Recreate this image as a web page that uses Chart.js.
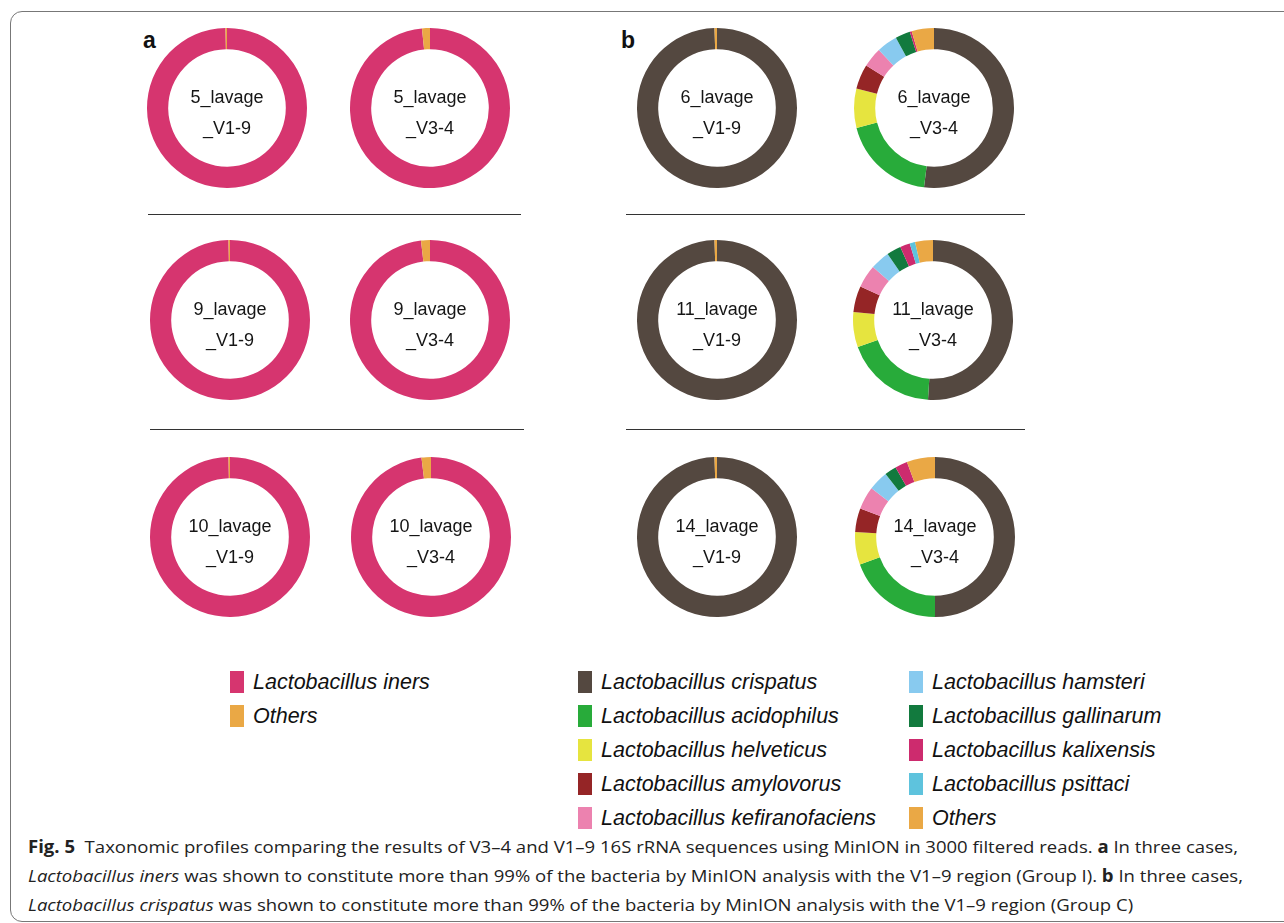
<!DOCTYPE html>
<html>
<head>
<meta charset="utf-8">
<script src="https://cdn.jsdelivr.net/npm/chart.js@4.4.1/dist/chart.umd.min.js"></script>
<style>
  html, body { margin:0; padding:0; background:#fff; }
  body { width:1284px; height:923px; position:relative; overflow:hidden; font-family:"Liberation Sans", Arial, sans-serif; }
  .frame { position:absolute; left:10px; top:11px; width:1300px; height:911px; border:1.5px solid #777; border-radius:12px; box-sizing:border-box; }
  .donut { position:absolute; width:160px; height:160px; }
  .sep { position:absolute; height:1px; background:#333; }
  .panel { position:absolute; font-weight:bold; font-size:23px; color:#111; line-height:1; }
  .leg { position:absolute; font-style:italic; font-size:21.5px; color:#111; line-height:1; white-space:nowrap; }
  .sw { position:absolute; width:14px; height:22px; }
  .cap { position:absolute; left:28px; font-family:"Open Sans", sans-serif; font-size:17px; color:#222; white-space:nowrap; transform-origin:0 50%; line-height:1; }
  .preload { position:absolute; left:-9999px; top:0; font-family:"Liberation Sans"; font-size:18px; }
</style>
</head>
<body>
<div class="preload">5_lavage _V1-9</div>
<div class="frame"></div>
<div class="panel" style="left:143px; top:29px;">a</div>
<div class="panel" style="left:621px; top:29px;">b</div>
<div class="sep" style="left:148px; top:214px; width:373px;"></div>
<div class="sep" style="left:626px; top:214px; width:399px;"></div>
<div class="sep" style="left:150px; top:429px; width:374px;"></div>
<div class="sep" style="left:626px; top:429px; width:399px;"></div>
<div id="donuts"></div>
<div id="legend"></div>
<div class="cap" id="cap1" style="top:838px;"><b>Fig. 5</b>&nbsp; Taxonomic profiles comparing the results of V3–4 and V1–9 16S rRNA sequences using MinION in 3000 filtered reads. <b>a</b> In three cases,</div>
<div class="cap" id="cap2" style="top:867px;"><i>Lactobacillus iners</i> was shown to constitute more than 99% of the bacteria by MinION analysis with the V1–9 region (Group I). <b>b</b> In three cases,</div>
<div class="cap" id="cap3" style="top:896px;"><i>Lactobacillus crispatus</i> was shown to constitute more than 99% of the bacteria by MinION analysis with the V1–9 region (Group C)</div>
<script>
// ---- Data ----
const groupILabels = ['Lactobacillus iners', 'Others'];
const groupIColors = ['#D6356F', '#EAA845'];
const groupCLabels = ['Lactobacillus crispatus', 'Lactobacillus acidophilus', 'Lactobacillus helveticus',
  'Lactobacillus amylovorus', 'Lactobacillus kefiranofaciens', 'Lactobacillus hamsteri',
  'Lactobacillus gallinarum', 'Lactobacillus kalixensis', 'Lactobacillus psittaci', 'Others'];
const groupCColors = ['#544840', '#28AB3A', '#E6E43F', '#952526', '#EC82AF', '#88CAEF',
  '#127A3E', '#CD2B6E', '#5EC3DD', '#EAA845'];

const lavage5_V1_9  = [99.7, 0.3];
const lavage5_V3_4  = [98.4, 1.6];
const lavage9_V1_9  = [99.7, 0.3];
const lavage9_V3_4  = [98.2, 1.8];
const lavage10_V1_9 = [99.7, 0.3];
const lavage10_V3_4 = [98.1, 1.9];

const lavage6_V1_9  = [99.5, 0, 0, 0, 0, 0, 0, 0, 0, 0.5];
const lavage6_V3_4  = [52.0, 19.0, 7.9, 5.0, 4.0, 4.2, 3.0, 0.4, 0, 4.5];
const lavage11_V1_9 = [99.5, 0, 0, 0, 0, 0, 0, 0, 0, 0.5];
const lavage11_V3_4 = [51.0, 18.5, 7.1, 5.3, 4.6, 3.9, 2.9, 2.0, 1.1, 3.6];
const lavage14_V1_9 = [99.5, 0, 0, 0, 0, 0, 0, 0, 0, 0.5];
const lavage14_V3_4 = [50.0, 19.4, 6.6, 4.8, 4.6, 4.0, 2.4, 2.5, 0, 5.7];

const donutNames = [
  ['5_lavage', '_V1-9'], ['5_lavage', '_V3-4'], ['6_lavage', '_V1-9'], ['6_lavage', '_V3-4'],
  ['9_lavage', '_V1-9'], ['9_lavage', '_V3-4'], ['11_lavage', '_V1-9'], ['11_lavage', '_V3-4'],
  ['10_lavage', '_V1-9'], ['10_lavage', '_V3-4'], ['14_lavage', '_V1-9'], ['14_lavage', '_V3-4']
];

// ---- Layout ----
const donutSpecs = [
  {name: donutNames[0],  data: lavage5_V1_9,  g: 'I', cx: 227, cy: 107.5},
  {name: donutNames[1],  data: lavage5_V3_4,  g: 'I', cx: 430, cy: 107.5},
  {name: donutNames[2],  data: lavage6_V1_9,  g: 'C', cx: 717, cy: 107.5},
  {name: donutNames[3],  data: lavage6_V3_4,  g: 'C', cx: 934, cy: 107.5},
  {name: donutNames[4],  data: lavage9_V1_9,  g: 'I', cx: 230, cy: 320},
  {name: donutNames[5],  data: lavage9_V3_4,  g: 'I', cx: 430, cy: 320},
  {name: donutNames[6],  data: lavage11_V1_9, g: 'C', cx: 717, cy: 320},
  {name: donutNames[7],  data: lavage11_V3_4, g: 'C', cx: 933, cy: 320},
  {name: donutNames[8],  data: lavage10_V1_9, g: 'I', cx: 230, cy: 537},
  {name: donutNames[9],  data: lavage10_V3_4, g: 'I', cx: 431, cy: 537},
  {name: donutNames[10], data: lavage14_V1_9, g: 'C', cx: 717, cy: 537},
  {name: donutNames[11], data: lavage14_V3_4, g: 'C', cx: 935, cy: 537}
];

const centerText = {
  id: 'centerText',
  afterDraw(chart, args, opts) {
    const {ctx, chartArea} = chart;
    const x = (chartArea.left + chartArea.right) / 2;
    const y = (chartArea.top + chartArea.bottom) / 2;
    ctx.save();
    ctx.font = '18px "Liberation Sans", Arial, sans-serif';
    ctx.fillStyle = '#151515';
    ctx.textAlign = 'center';
    ctx.textBaseline = 'middle';
    ctx.fillText(opts.lines[0], x, y - 10);
    ctx.fillText(opts.lines[1], x, y + 21);
    ctx.restore();
  }
};

function buildDonuts() {
  const host = document.getElementById('donuts');
  donutSpecs.forEach(s => {
    const div = document.createElement('div');
    div.className = 'donut';
    div.style.left = (s.cx - 80) + 'px';
    div.style.top = (s.cy - 80) + 'px';
    const cv = document.createElement('canvas');
    cv.width = 160; cv.height = 160;
    div.appendChild(cv);
    host.appendChild(div);
    const isI = s.g === 'I';
    new Chart(cv, {
      type: 'doughnut',
      data: {
        labels: isI ? groupILabels : groupCLabels,
        datasets: [{
          data: s.data,
          backgroundColor: isI ? groupIColors : groupCColors,
          borderWidth: 0
        }]
      },
      options: {
        responsive: false,
        animation: false,
        cutout: '73.5%',
        layout: { padding: 0 },
        plugins: { legend: { display: false }, tooltip: { enabled: false }, centerText: { lines: s.name } }
      },
      plugins: [centerText]
    });
  });
}

let built = false;
function buildOnce() { if (!built) { built = true; buildDonuts(); } }
if (document.fonts && document.fonts.load) {
  document.fonts.load('18px "Liberation Sans"').then(buildOnce, buildOnce);
  setTimeout(buildOnce, 400);
} else {
  buildOnce();
}

// ---- Legend ----
const legendCols = [
  {x: 230, items: [0, 1].map(i => [groupILabels[i], groupIColors[i]])},
  {x: 578, items: [0, 1, 2, 3, 4].map(i => [groupCLabels[i], groupCColors[i]])},
  {x: 909, items: [5, 6, 7, 8, 9].map(i => [groupCLabels[i], groupCColors[i]])}
];
const lg = document.getElementById('legend');
legendCols.forEach(col => {
  col.items.forEach((it, r) => {
    const cy = 682 + r * 34;
    const sw = document.createElement('div');
    sw.className = 'sw';
    sw.style.left = col.x + 'px';
    sw.style.top = (cy - 11) + 'px';
    sw.style.background = it[1];
    lg.appendChild(sw);
    const t = document.createElement('div');
    t.className = 'leg';
    t.textContent = it[0];
    t.style.left = (col.x + 23) + 'px';
    t.style.top = (cy - 10) + 'px';
    lg.appendChild(t);
  });
});

// ---- Caption fit ----
const w1 = document.getElementById('cap1').getBoundingClientRect().width;
const w2 = document.getElementById('cap2').getBoundingClientRect().width;
const s1 = 1210 / w1, s2 = 1215 / w2;
document.getElementById('cap1').style.transform = 'scaleX(' + s1 + ')';
document.getElementById('cap2').style.transform = 'scaleX(' + s2 + ')';
document.getElementById('cap3').style.transform = 'scaleX(' + s2 + ')';
</script>
</body>
</html>
